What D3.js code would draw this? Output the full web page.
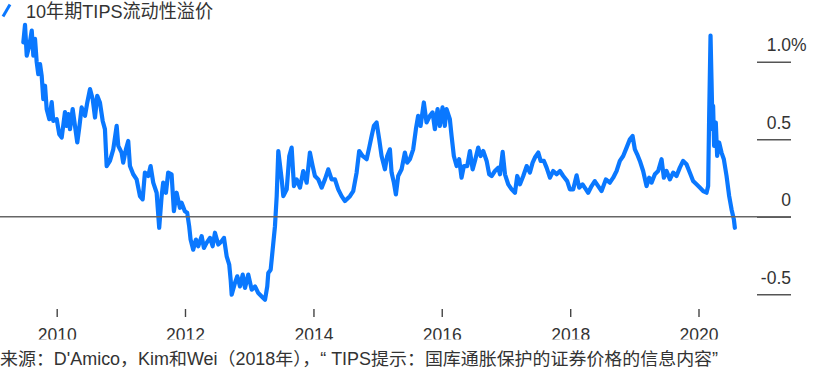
<!DOCTYPE html>
<html>
<head>
<meta charset="utf-8">
<script src="https://cdn.jsdelivr.net/npm/d3@7"></script>
<style>
  html, body { margin: 0; padding: 0; background: #fff; }
  svg { display: block; font-family: "Liberation Sans", "Noto Sans CJK SC", sans-serif; }
</style>
</head>
<body>
<svg id="chart" width="830" height="377"></svg>
<script>
// ---- data ----
const title = "10年期TIPS流动性溢价";
const source = "来源：D'Amico，Kim和Wei（2018年），“ TIPS提示：国库通胀保护的证券价格的信息内容”";

// decimal years of observations
const years = [2009.480,2009.506,2009.533,2009.573,2009.611,2009.636,2009.662,2009.688,2009.713,2009.740,2009.766,2009.791,2009.818,2009.844,2009.885,2009.922,2009.947,2010.000,2010.040,2010.078,2010.129,2010.156,2010.181,2010.207,2010.249,2010.285,2010.321,2010.352,2010.389,2010.441,2010.477,2010.519,2010.561,2010.597,2010.632,2010.674,2010.717,2010.752,2010.779,2010.830,2010.882,2010.935,2010.960,2011.012,2011.037,2011.079,2011.115,2011.142,2011.193,2011.246,2011.298,2011.340,2011.375,2011.427,2011.464,2011.505,2011.558,2011.598,2011.636,2011.660,2011.703,2011.738,2011.791,2011.827,2011.869,2011.921,2011.947,2011.998,2012.034,2012.065,2012.087,2012.128,2012.170,2012.206,2012.259,2012.294,2012.336,2012.388,2012.430,2012.466,2012.517,2012.570,2012.606,2012.648,2012.688,2012.710,2012.726,2012.777,2012.813,2012.855,2012.897,2012.933,2012.984,2013.037,2013.089,2013.140,2013.193,2013.245,2013.280,2013.296,2013.333,2013.364,2013.400,2013.427,2013.452,2013.505,2013.530,2013.583,2013.623,2013.660,2013.696,2013.738,2013.790,2013.841,2013.894,2013.945,2013.988,2014.023,2014.075,2014.128,2014.179,2014.231,2014.283,2014.335,2014.386,2014.439,2014.491,2014.569,2014.620,2014.673,2014.713,2014.766,2014.829,2014.869,2014.907,2014.942,2014.984,2015.025,2015.062,2015.114,2015.150,2015.192,2015.218,2015.254,2015.285,2015.321,2015.374,2015.425,2015.461,2015.503,2015.555,2015.597,2015.632,2015.670,2015.721,2015.763,2015.815,2015.857,2015.893,2015.935,2015.970,2016.012,2016.048,2016.075,2016.126,2016.153,2016.188,2016.231,2016.271,2016.308,2016.344,2016.396,2016.438,2016.480,2016.516,2016.567,2016.604,2016.645,2016.698,2016.738,2016.776,2016.827,2016.879,2016.905,2016.947,2016.983,2017.034,2017.087,2017.139,2017.174,2017.217,2017.268,2017.321,2017.372,2017.414,2017.450,2017.502,2017.539,2017.590,2017.632,2017.684,2017.735,2017.788,2017.840,2017.891,2017.953,2017.995,2018.047,2018.100,2018.140,2018.193,2018.245,2018.280,2018.333,2018.383,2018.436,2018.489,2018.556,2018.618,2018.670,2018.723,2018.774,2018.826,2018.879,2018.930,2018.972,2019.008,2019.044,2019.086,2019.137,2019.190,2019.231,2019.268,2019.320,2019.371,2019.424,2019.460,2019.502,2019.554,2019.605,2019.657,2019.709,2019.760,2019.813,2019.864,2019.916,2019.969,2020.020,2020.072,2020.125,2020.150,2020.165,2020.187,2020.202,2020.218,2020.227,2020.243,2020.269,2020.290,2020.321,2020.358,2020.394,2020.436,2020.477,2020.514,2020.550,2020.565];

// liquidity premium, percent
const premium = [1.125,1.237,1.039,1.103,1.200,1.039,1.147,0.998,0.920,0.985,0.909,0.759,0.845,0.694,0.629,0.739,0.618,0.629,0.532,0.511,0.675,0.586,0.662,0.565,0.694,0.586,0.479,0.576,0.705,0.651,0.737,0.823,0.759,0.640,0.780,0.737,0.618,0.565,0.327,0.360,0.435,0.586,0.457,0.414,0.349,0.435,0.489,0.327,0.274,0.241,0.133,0.112,0.285,0.263,0.327,0.220,0.155,-0.071,0.133,0.220,0.155,0.285,0.274,0.036,0.155,0.058,0.091,0.036,0.026,-0.061,-0.147,-0.212,-0.147,-0.190,-0.125,-0.201,-0.168,-0.136,-0.190,-0.103,-0.179,-0.158,-0.136,-0.255,-0.309,-0.406,-0.503,-0.427,-0.384,-0.449,-0.373,-0.459,-0.373,-0.470,-0.449,-0.492,-0.514,-0.535,-0.449,-0.362,-0.341,-0.212,-0.061,0.133,0.424,0.241,0.133,0.177,0.392,0.446,0.198,0.241,0.188,0.295,0.220,0.414,0.327,0.263,0.241,0.188,0.241,0.306,0.241,0.241,0.177,0.133,0.101,0.133,0.166,0.285,0.424,0.392,0.371,0.446,0.521,0.586,0.608,0.500,0.392,0.306,0.392,0.435,0.285,0.220,0.144,0.263,0.306,0.414,0.349,0.371,0.435,0.565,0.651,0.586,0.737,0.608,0.651,0.673,0.565,0.694,0.586,0.705,0.586,0.694,0.629,0.521,0.392,0.327,0.371,0.252,0.327,0.327,0.424,0.306,0.360,0.446,0.392,0.424,0.360,0.274,0.263,0.295,0.317,0.274,0.418,0.274,0.209,0.177,0.155,0.263,0.209,0.263,0.327,0.285,0.349,0.382,0.414,0.360,0.360,0.317,0.252,0.295,0.274,0.295,0.263,0.230,0.177,0.177,0.267,0.188,0.209,0.177,0.155,0.198,0.230,0.198,0.166,0.241,0.220,0.252,0.295,0.360,0.392,0.446,0.500,0.521,0.435,0.403,0.360,0.295,0.198,0.252,0.220,0.274,0.295,0.371,0.252,0.295,0.241,0.285,0.263,0.317,0.360,0.338,0.285,0.230,0.209,0.188,0.166,0.155,0.198,0.629,1.168,0.888,0.565,0.715,0.457,0.608,0.392,0.479,0.414,0.371,0.263,0.133,0.047,-0.017,-0.071];

const xTickYears = [2010, 2012, 2014, 2016, 2018, 2020];
const yTickValues = [-0.5, 0, 0.5, 1.0];
const yTickLabels = ["-0.5", "0", "0.5", "1.0"];

// ---- drawing ----
const blue = "#0a78ff";
const ink = "#333";
const svg = d3.select("#chart");

function toDate(t) {
  const yr = Math.floor(t);
  const s = new Date(yr, 0, 1), e = new Date(yr + 1, 0, 1);
  return new Date(+s + (t - yr) * (e - s));
}
const data = d3.zip(years, premium).map(([t, v]) => ({ date: toDate(t), v }));

const x = d3.scaleTime()
  .domain([new Date(2010, 0, 1), new Date(2020, 0, 1)])
  .range([56.7, 698.5]);
const y = d3.scaleLinear().domain([-0.5, 1.0]).range([294.3, 61.7]);

// right-side value axis: short tick lines with labels above them
const yAxis = d3.axisLeft(y)
  .tickValues(yTickValues)
  .tickSize(34)
  .tickFormat((d, i) => yTickLabels[i]);
const gy = svg.append("g").attr("transform", "translate(791,0)").call(yAxis);
gy.select(".domain").remove();
gy.selectAll(".tick line").attr("stroke", "#555").attr("stroke-width", 1.5);
gy.selectAll(".tick text")
  .attr("x", 0).attr("y", -11).attr("dy", 0)
  .attr("text-anchor", "end")
  .attr("fill", ink)
  .style("font-size", "17.5px");
gy.selectAll(".tick").filter(d => d === 1.0)
  .append("text")
  .attr("x", 0).attr("y", -11)
  .attr("text-anchor", "start")
  .attr("fill", ink)
  .style("font-size", "17.5px")
  .text("%");

// data line
const line = d3.line().x(d => x(d.date)).y(d => y(d.v)).curve(d3.curveLinear);
svg.append("path")
  .datum(data)
  .attr("d", line)
  .attr("fill", "none")
  .attr("stroke", blue)
  .attr("stroke-width", 4.2)
  .attr("stroke-linejoin", "round")
  .attr("stroke-linecap", "round");

// zero line
svg.append("line")
  .attr("x1", 0).attr("x2", 791)
  .attr("y1", y(0)).attr("y2", y(0))
  .attr("stroke", "#666").attr("stroke-width", 1.5);

// bottom time axis
const xAxis = d3.axisBottom(x)
  .tickValues(xTickYears.map(yr => new Date(yr, 0, 1)))
  .tickSize(8)
  .tickFormat(d3.timeFormat("%Y"));
const gx = svg.append("g").attr("transform", "translate(0,309)").call(xAxis);
gx.select(".domain").remove();
gx.selectAll(".tick line").attr("stroke", "#444").attr("stroke-width", 1.4);
gx.selectAll(".tick text")
  .attr("y", 32).attr("dy", 0)
  .attr("fill", ink)
  .style("font-size", "17.5px");

// legend
const lg = svg.append("g");
lg.append("line")
  .attr("x1", 3).attr("y1", 16.5).attr("x2", 10).attr("y2", 4.5)
  .attr("stroke", blue).attr("stroke-width", 3).attr("stroke-linecap", "butt");
lg.append("text")
  .attr("x", 26).attr("y", 18)
  .attr("fill", ink)
  .style("font-size", "19px")
  .attr("textLength", 187)
  .attr("lengthAdjust", "spacingAndGlyphs")
  .text(title);

// source note (white band clips the year labels slightly, as in the original)
svg.append("rect").attr("x", 0).attr("y", 339.5).attr("width", 830).attr("height", 40).attr("fill", "#fff");
svg.append("text")
  .attr("x", 0).attr("y", 365)
  .attr("fill", ink)
  .style("font-size", "17.5px")
  .attr("textLength", 718)
  .attr("lengthAdjust", "spacingAndGlyphs")
  .text(source);
</script>
</body>
</html>
